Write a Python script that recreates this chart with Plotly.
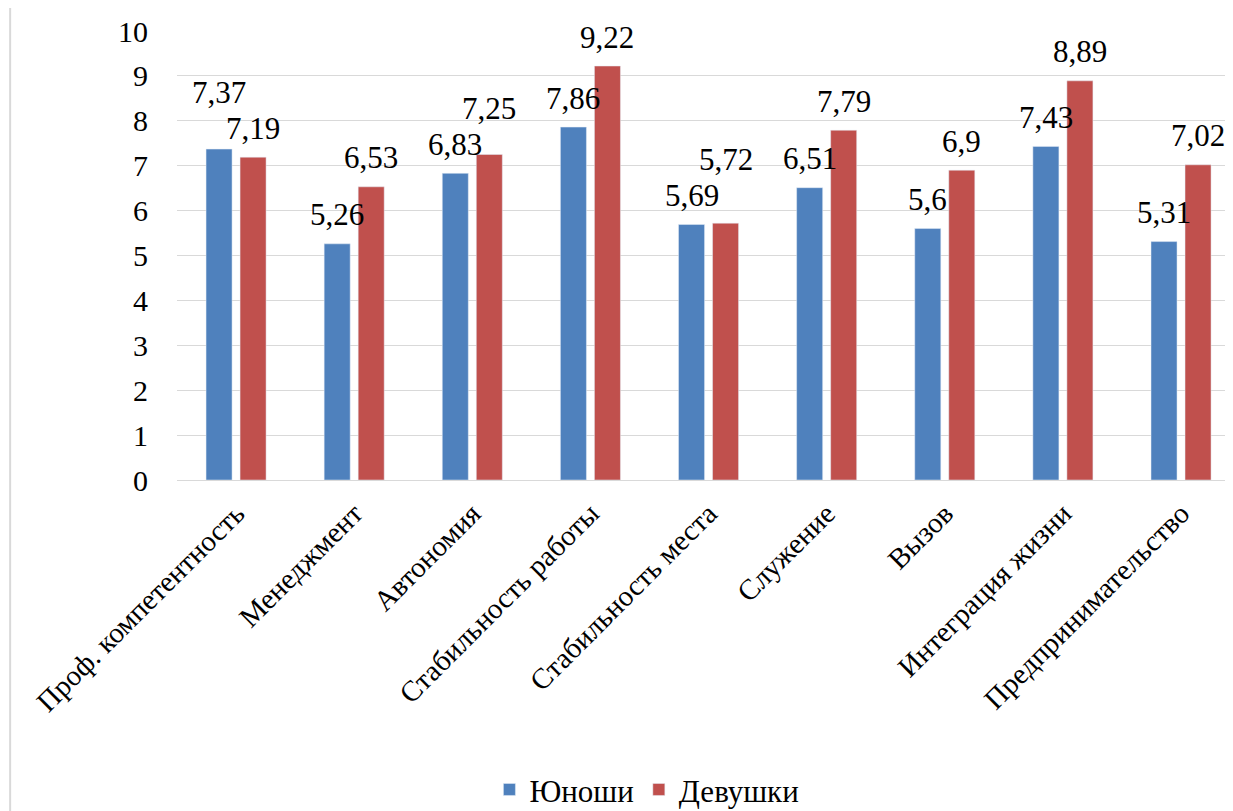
import plotly.graph_objects as go

categories = ["Проф. компетентность", "Менеджмент", "Автономия", "Стабильность работы",
              "Стабильность места", "Служение", "Вызов", "Интеграция жизни", "Предпринимательство"]
boys = [7.37, 5.26, 6.83, 7.86, 5.69, 6.51, 5.6, 7.43, 5.31]
girls = [7.19, 6.53, 7.25, 9.22, 5.72, 7.79, 6.9, 8.89, 7.02]
y_ticks = list(range(0, 11))

FONT = "Times New Roman"
BLUE = "#4f81bd"
RED = "#c0504d"

W, H = 1225, 803
ML, MT, MB = 169, 23, 331
Y_MAX = 10
PX_PER_UNIT = (H - MT - MB) / Y_MAX
LABEL_OFF = 29
MIN_SEP = 36


def fmt(v):
    return f"{v:g}".replace(".", ",")


fig = go.Figure()
fig.add_trace(go.Bar(name="Юноши", x=categories, y=boys, marker_color=BLUE))
fig.add_trace(go.Bar(name="Девушки", x=categories, y=girls, marker_color=RED))

# Data labels, with the label of the taller bar lifted when the two would collide
annotations = []
for cat, b, g in zip(categories, boys, girls):
    yb = b * PX_PER_UNIT + LABEL_OFF
    yg = g * PX_PER_UNIT + LABEL_OFF
    if abs(yb - yg) < MIN_SEP:
        if b >= g:
            yb = yg + MIN_SEP
        else:
            yg = yb + MIN_SEP
    for v, ypx, xs in ((b, yb, -17), (g, yg, 17)):
        annotations.append(dict(x=cat, y=v, xref="x", yref="y", text=fmt(v), showarrow=False,
                                xshift=xs, yshift=ypx - v * PX_PER_UNIT, yanchor="middle",
                                font=dict(family=FONT, size=31)))

fig.update_layout(
    width=W, height=H,
    margin=dict(l=ML, r=0, t=MT, b=MB, autoexpand=False),
    paper_bgcolor="white", plot_bgcolor="white",
    barmode="group", bargap=0.424, bargroupgap=0.235,
    font=dict(family=FONT, color="black"),
    showlegend=True,
    legend=dict(orientation="h", x=0.445, xanchor="center", y=-0.69, yanchor="middle",
                font=dict(family=FONT, size=31), itemwidth=30, tracegroupgap=0),
    yaxis=dict(range=[0, Y_MAX], tickvals=y_ticks, showgrid=True, gridcolor="#d9d9d9",
               gridwidth=1, zeroline=False, showline=False, ticklabelstandoff=28,
               tickfont=dict(family=FONT, size=30), automargin=False),
    xaxis=dict(tickangle=-45, showline=True, linecolor="#d9d9d9", linewidth=1,
               range=[-0.5, 8.44], automargin=False,
               tickfont=dict(family=FONT, size=29), ticklabelstandoff=4),
    annotations=annotations,
    shapes=[dict(type="line", xref="paper", yref="paper", x0=-0.158, x1=-0.158,
                 y0=-1.0, y1=1.1, line=dict(color="#d9d9d9", width=2))],
)

fig.write_html("out.html")
